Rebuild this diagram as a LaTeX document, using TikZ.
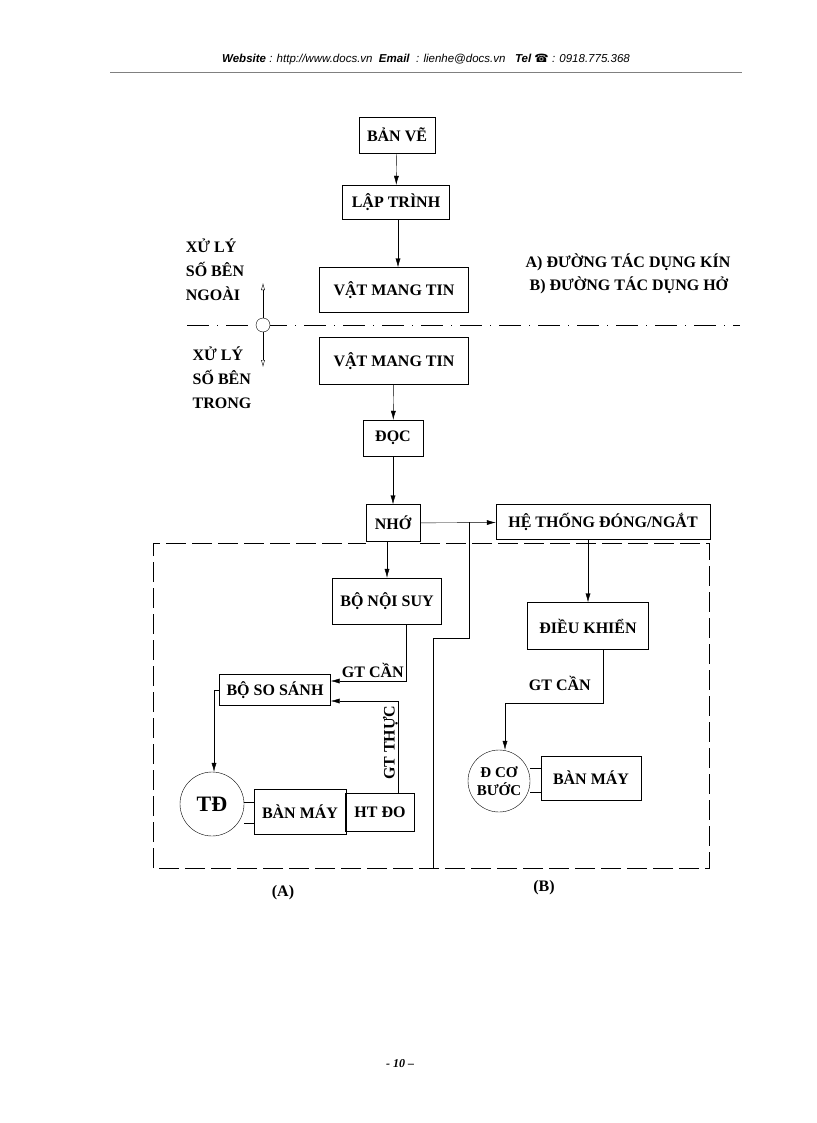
\documentclass[tikz,border=0pt]{standalone}
\usepackage{fontspec}
\setmainfont{Liberation Serif}
\newfontfamily\hdrfont{Liberation Sans}
\newfontfamily\symfont{DejaVu Sans}
\usetikzlibrary{positioning,arrows.meta}
\begin{document}
\begin{tikzpicture}[x=1pt,y=-1pt,
    box/.style={draw,thin,inner sep=0pt,font=\bfseries\fontsize{16}{18}\selectfont},
    lbl/.style={inner sep=0pt,font=\bfseries\fontsize{16}{18}\selectfont},
    side/.style={inner sep=0pt,align=left,font=\bfseries\fontsize{16}{24}\selectfont},
    arr/.style={-{Latex[length=9pt,width=5pt]},thin},
    motor/.style={draw,thin,circle,inner sep=0pt}]
    \useasboundingbox (0,0) rectangle (816,1123);

    % Header and footer
    \node[font=\hdrfont\itshape\fontsize{11.5}{13}\selectfont] (hdr) at (426,60) {\textbf{Website} : http://www.docs.vn\ \ \textbf{Email}\ \ : lienhe@docs.vn\ \ \ \textbf{Tel} {\symfont\upshape\char"260E} : 0918.775.368};
    \draw[gray] (110,72) -- (742,72);
    \node[font=\bfseries\itshape\fontsize{12}{14}\selectfont] (ftr) at (400,1064) {- 10 --};

    % Top chain
    \node[box,minimum width=76,minimum height=36] (banve) at (397,135) {BẢN VẼ};
    \node[box,minimum width=107,minimum height=34] (laptrinh) at (396,202) {LẬP TRÌNH};
    \node[box,minimum width=149,minimum height=45] (vmt1) at (394,290) {VẬT MANG TIN};
    \node[box,minimum width=149,minimum height=47] (vmt2) at (394,361) {VẬT MANG TIN};
    \node[box,minimum width=60,minimum height=36] (doc) at (393,438) {ĐỌC};
    \node[box,minimum width=54,minimum height=37] (nho) at (393,523) {NHỚ};
    \node[box,minimum width=214,minimum height=35] (heth) at (603,522) {HỆ THỐNG ĐÓNG/NGẮT};

    \draw[arr] (banve) -- (laptrinh);
    \draw[arr] (laptrinh.south -| 398,0) -- (vmt1.north -| 398,0);
    \draw[arr] (vmt2) -- (doc);
    \draw[arr] (doc) -- (nho);
    \draw[arr] (nho) -- (heth);

    % Separation line and side labels
    \draw[thin,dash pattern=on 22pt off 8pt on 1pt off 8pt] (187,325) -- (740,325);
    \draw[{Latex[open,length=7pt,width=4pt]}-{Latex[open,length=7pt,width=4pt]}] (263,283) -- (263,367);
    \node[motor,minimum size=14,fill=white] (sep) at (263,325) {};
    \node[side] (ngoai) at (215,270) {XỬ LÝ\\SỐ BÊN\\NGOÀI};
    \node[side] (trong) at (222,378) {XỬ LÝ\\SỐ BÊN\\TRONG};
    \node[lbl,align=left] (chu) at (628,274) {A) ĐƯỜNG TÁC DỤNG KÍN\\[5pt]\ B) ĐƯỜNG TÁC DỤNG HỞ};

    % Dashed frame (A) | (B)
    \draw[thin,dash pattern=on 20pt off 6pt] (420,543) -- (709,543) -- (709,868) -- (153,868) -- (153,543) -- (366,543);
    \coordinate (split) at (469,522);
    \draw[thin] (split) -- (469,638) -- (433,638) -- (433,868);
    \node[lbl] (la) at (283,893) {(A)};
    \node[lbl] (lb) at (544,888) {(B)};

    % Closed loop (A)
    \node[box,minimum width=109,minimum height=46] (noisuy) at (387,601) {BỘ NỘI SUY};
    \node[box,minimum width=111,minimum height=31] (sosanh) at (275,690) {BỘ SO SÁNH};
    \node[motor,minimum size=64,font=\bfseries\fontsize{22}{24}\selectfont] (td) at (212,804) {TĐ};
    \node[box,minimum width=92,minimum height=45] (banmay1) at (300,812) {BÀN MÁY};
    \node[box,minimum width=69,minimum height=38] (htdo) at (380,812) {HT ĐO};
    \draw[arr] (nho.south -| noisuy.north) -- (noisuy.north);
    \draw[arr] (noisuy.south -| 406,0) |- (sosanh.east |- 0,681) node[lbl,pos=0.72,above=3pt] {GT CẦN};
    \draw[arr] (htdo.north -| 398,0) |- (sosanh.east |- 0,701) node[lbl,pos=0.3,rotate=90,anchor=south,xshift=-5pt] {GT THỰC};
    \draw[arr] (sosanh.west |- 0,690) -| (td.north -| 214,0);
    \draw (td.east |- 0,802) -- (banmay1.west |- 0,802);
    \draw (td.east |- 0,823) -- (banmay1.west |- 0,823);

    % Open loop (B)
    \node[box,minimum width=121,minimum height=47] (dieukhien) at (588,626) {ĐIỀU KHIỂN};
    \node[motor,minimum size=62,align=center,font=\bfseries\fontsize{15}{18}\selectfont] (dco) at (499,781) {Đ CƠ\\BƯỚC};
    \node[box,minimum width=100,minimum height=44] (banmay2) at (591,778) {BÀN MÁY};
    \draw[arr] (heth.south -| 588,0) -- (dieukhien.north);
    \draw[arr] (dieukhien.south -| 603,0) |- (505,703) node[lbl,pos=0.72,above=12pt] {GT CẦN} -- (dco.north -| 505,0);
    \draw (dco.east |- 0,768) -- (banmay2.west |- 0,768);
    \draw (dco.east |- 0,792) -- (banmay2.west |- 0,792);
\end{tikzpicture}
\end{document}
